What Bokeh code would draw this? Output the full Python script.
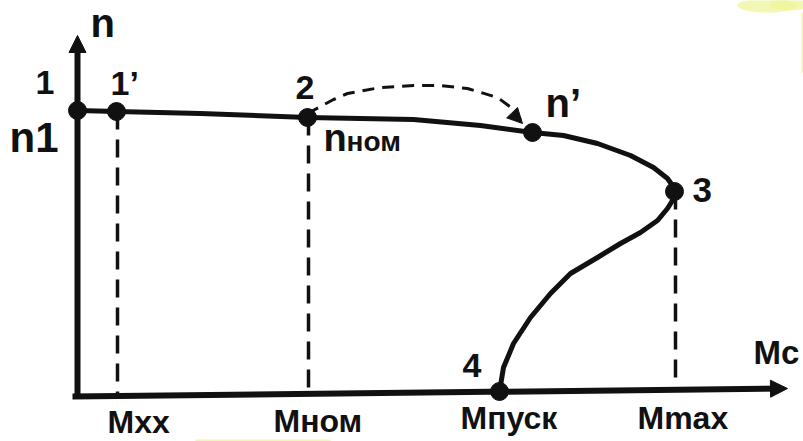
from bokeh.plotting import figure
from bokeh.models import Arrow, NormalHead, ColumnDataSource, Range1d
from bokeh.core.properties import value
from bokeh.embed import file_html
from bokeh.resources import INLINE

FONT = value("Liberation Sans")

# --- data (torque M on x, speed n on y, arbitrary units) ---
curve_M = [0, 39, 123, 230, 336, 403, 455, 486, 520, 553, 576, 590, 595, 597, 595, 590, 580,
           563, 543, 520, 493, 473, 453, 436, 426, 422]
curve_n = [282, 281, 279, 275, 273, 267, 260, 257, 249, 237, 225, 214, 207, 200, 192, 184, 172,
           160, 149, 135, 119, 99, 75, 49, 25, 1]

pt_names = ["1", "1’", "2", "n’", "3", "4"]
pt_M = [0, 39, 230, 455, 597, 422]
pt_n = [282, 281, 275, 260, 201, 1]

M_names = ["Mxx", "Mном", "Mпуск", "Mmax"]
M_values = [40, 231, 422, 598]
M_dash_top = [281, 275, 0, 201]
M_dash_bottom = [-2, 3, 0, 10]

# transition 2 -> n' (dashed arc)
arc_M = [230, 256, 270, 303, 336, 363, 390, 420, 435, 443]
arc_n = [279, 293, 299, 305, 307, 307, 304, 295, 284, 273]
arc_tip = (445, 269)

# axes
axis_x = dict(x0=-5, y0=-4, x1=710, y1=4)
axis_y = dict(x0=0, y0=-6, x1=0, y1=357)

p = figure(width=803, height=441, output_backend="svg", toolbar_location=None,
           x_range=Range1d(-77, 726), y_range=Range1d(-49, 392),
           min_border=0, outline_line_color=None)
p.axis.visible = False
p.grid.visible = False
p.background_fill_color = "white"
p.border_fill_color = "white"

# faint yellow scan artefacts of the original picture
p.ellipse(x=[690, 712], y=[387, 388], width=[60, 40], height=[14, 12],
          fill_color="#eef59a", line_color=None, fill_alpha=0.75)
p.line([725, 725], [380, 320], line_color="#f2f6b0", line_width=2)
p.line([118, 253], [-48, -48], line_color="#f3f6b8", line_width=2)

# dashed reference verticals
for m, top, bot in zip(M_values, M_dash_top, M_dash_bottom):
    if top <= bot:
        continue
    p.line([m, m], [top, bot], line_color="#111111", line_width=3.5, line_dash="18 10")

# dashed arc arrow
p.line(arc_M, arc_n, line_color="#111111", line_width=3, line_dash="12 8", line_join="round")
p.add_layout(Arrow(end=NormalHead(size=15, fill_color="#111111", line_color="#111111"),
                   x_start=arc_M[-3], y_start=arc_n[-3], x_end=arc_tip[0], y_end=arc_tip[1],
                   line_alpha=0, line_width=0.1))

# axes with arrow heads
p.add_layout(Arrow(end=NormalHead(size=17, fill_color="#111111", line_color="#111111"),
                   x_start=axis_y["x0"], y_start=axis_y["y0"], x_end=axis_y["x1"], y_end=axis_y["y1"],
                   line_width=6, line_color="#111111"))
p.add_layout(Arrow(end=NormalHead(size=17, fill_color="#111111", line_color="#111111"),
                   x_start=axis_x["x0"], y_start=axis_x["y0"], x_end=axis_x["x1"], y_end=axis_x["y1"],
                   line_width=6, line_color="#111111"))

# characteristic curve
p.line(curve_M, curve_n, line_color="#111111", line_width=5, line_join="round", line_cap="round")

# points
p.scatter(pt_M, pt_n, size=18, fill_color="#111111", line_color="#111111")

# labels: left x, baseline y, font size (px)
lab_text = ["n", "1", "1’", "n1", "2", "n", "ном", "n’", "3", "4", "Mc",
            "Mxx", "Mном", "Mпуск", "Mmax"]
lab_x = [13, -42, 33, -68, 218, 246, 269, 468, 615, 385, 676, 30, 196, 383, 560]
lab_base = [354, 297, 297, 239, 292, 240, 240, 274, 189, 14, 27, -42, -41, -38, -38]
lab_size = [40, 34, 34, 42, 34, 38, 28, 40, 35, 34, 33, 32, 32, 32, 32]

labels = ColumnDataSource(dict(
    text=lab_text,
    x=lab_x,
    y=[b + 0.38 * s for b, s in zip(lab_base, lab_size)],
    size=[f"{s}px" for s in lab_size],
))
p.text(x="x", y="y", text="text", source=labels, text_font=FONT, text_font_style="bold",
       text_font_size="size", text_color="#111111", text_align="left", text_baseline="middle")

open("out.html", "w").write(file_html(p, INLINE))
